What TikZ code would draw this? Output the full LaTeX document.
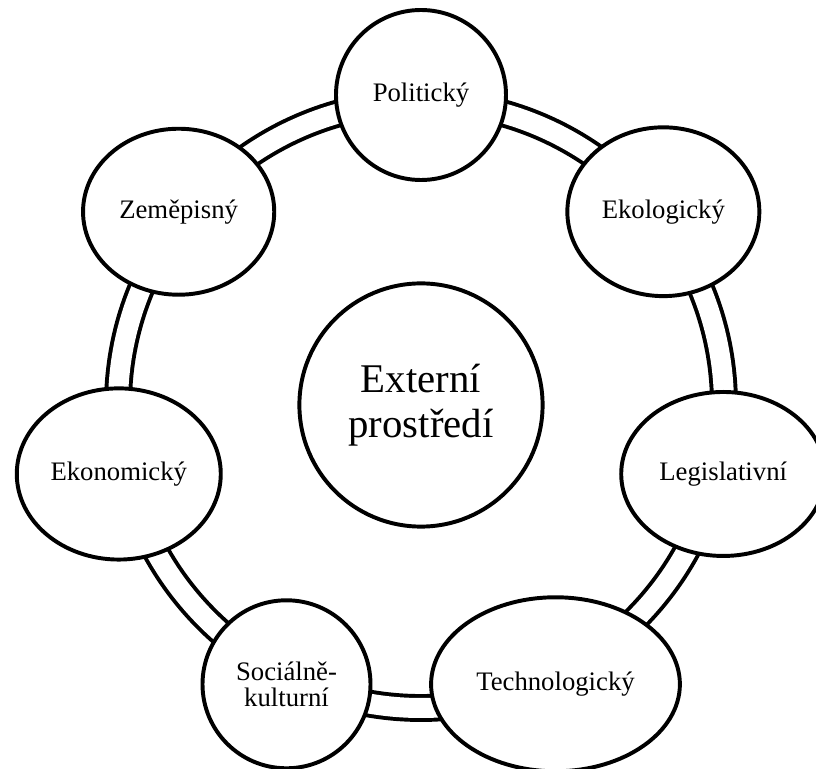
\documentclass[tikz,border=0pt]{standalone}
\usepackage{fontspec}
\setmainfont{Liberation Serif}
\usetikzlibrary{shapes.geometric}

\tikzset{
  factor/.style={draw, line width=2.8pt, fill=white, ellipse, inner sep=0pt,
    align=center, font=\fontsize{19}{19}\selectfont},
  ring/.style={line width=2.8pt, double, double distance=0.5cm},
}

\begin{document}
\begin{tikzpicture}
\def\ringr{7.575}
\def\noder{7.75}
\def\stepang{51.4286}

\useasboundingbox (-10.525,-9.1) rectangle (9.875,10.125);

% middle of the ring
\node[factor, circle, minimum size=6.08cm, font=\fontsize{29}{32}\selectfont]
  (ext) at (0,0) {Externí\\prostředí};

\draw[ring] (ext.center) circle (\ringr);

% the seven factors round the ring
\node[factor, circle, minimum size=4.25cm] (polit) at (90:\noder) {Politický};
\node[factor, minimum width=4.8cm, minimum height=4.22cm] (ekol)
  at (90-\stepang:\noder) {Ekologický};
\node[factor, minimum width=5.1cm, minimum height=4.1cm] (legis)
  at (90-2*\stepang:\noder) {Legislativní};
\node[factor, minimum width=6.22cm, minimum height=4.35cm] (techn)
  at (90-3*\stepang:\noder) {Technologický};
\node[factor, circle, minimum size=4.2cm] (social)
  at (90-4*\stepang:\noder) {Sociálně-\\kulturní};
\node[factor, minimum width=5.1cm, minimum height=4.28cm] (ekon)
  at (90-5*\stepang:\noder) {Ekonomický};
\node[factor, minimum width=4.78cm, minimum height=4.15cm] (zemep)
  at (90-6*\stepang:\noder) {Zeměpisný};
\end{tikzpicture}
\end{document}
